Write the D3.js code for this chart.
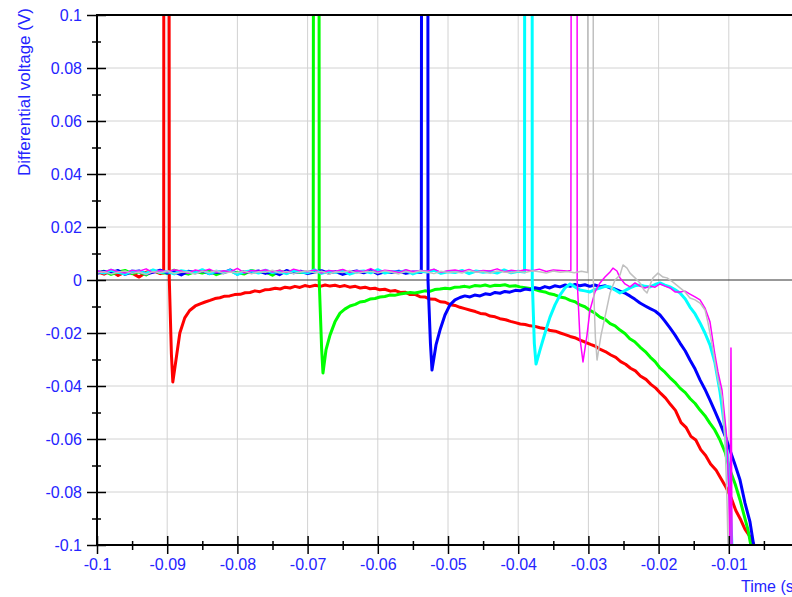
<!DOCTYPE html>
<html>
<head>
<meta charset="utf-8">
<script src="https://cdn.jsdelivr.net/npm/d3@7"></script>
<style>
  body { margin: 0; background: #fff; }
  svg { display: block; }
</style>
</head>
<body>
<svg id="chart"></svg>
<script>
// tick values (0 s sits just past the right edge of the picture)
const xMajor = [-0.1, -0.09, -0.08, -0.07, -0.06, -0.05, -0.04, -0.03, -0.02, -0.01];
const xMinor = [-0.095, -0.085, -0.075, -0.065, -0.055, -0.045, -0.035, -0.025, -0.015, -0.005];
const yMajor = [-0.1, -0.08, -0.06, -0.04, -0.02, 0, 0.02, 0.04, 0.06, 0.08, 0.1];
const yMinor = [-0.09, -0.07, -0.05, -0.03, -0.01, 0.01, 0.03, 0.05, 0.07, 0.09];

// pre-trigger baseline, sampled every 1 ms from t = -0.1 s
const baseStart = -0.1;
const baseStep = 0.001;
const redBase = [0.0031,0.0022,0.0034,0.0017,0.0030,0.0026,0.0011,0.0029,0.0035,0.0024];
const greenBase = [0.0027,0.0033,0.0021,0.0030,0.0036,0.0024,0.0031,0.0019,0.0034,0.0028,0.0025,0.0037,0.0029,0.0022,0.0032,0.0026,0.0035,0.0020,0.0030,0.0033,0.0027,0.0023,0.0036,0.0029,0.0031,0.0018,0.0034,0.0026,0.0032,0.0028,0.0030];
const blueBase = [0.0025,0.0032,0.0028,0.0036,0.0021,0.0030,0.0034,0.0023,0.0029,0.0037,0.0026,0.0031,0.0019,0.0033,0.0028,0.0035,0.0024,0.0030,0.0027,0.0038,0.0022,0.0032,0.0029,0.0034,0.0025,0.0031,0.0020,0.0036,0.0027,0.0033,0.0024,0.0030,0.0035,0.0026,0.0032,0.0021,0.0029,0.0034,0.0027,0.0037,0.0023,0.0031,0.0028,0.0033,0.0025,0.0030,0.0029];
const cyanBase = [0.0033,0.0026,0.0037,0.0029,0.0022,0.0034,0.0031,0.0025,0.0038,0.0028,0.0032,0.0023,0.0035,0.0030,0.0027,0.0039,0.0024,0.0033,0.0029,0.0036,0.0021,0.0031,0.0034,0.0026,0.0037,0.0028,0.0032,0.0024,0.0035,0.0030,0.0027,0.0038,0.0025,0.0033,0.0029,0.0036,0.0022,0.0031,0.0034,0.0027,0.0039,0.0026,0.0032,0.0029,0.0035,0.0023,0.0033,0.0030,0.0037,0.0025,0.0031,0.0028,0.0036,0.0024,0.0034,0.0029,0.0032,0.0026,0.0038,0.0027,0.0033,0.0030];
const magentaBase = [0.0035,0.0029,0.0040,0.0031,0.0026,0.0037,0.0033,0.0042,0.0028,0.0036,0.0030,0.0039,0.0034,0.0025,0.0038,0.0032,0.0041,0.0029,0.0035,0.0031,0.0044,0.0027,0.0036,0.0033,0.0039,0.0030,0.0037,0.0028,0.0041,0.0034,0.0031,0.0038,0.0026,0.0036,0.0033,0.0040,0.0029,0.0035,0.0032,0.0043,0.0030,0.0037,0.0034,0.0028,0.0039,0.0031,0.0036,0.0033,0.0041,0.0029,0.0035,0.0038,0.0032,0.0040,0.0030,0.0036,0.0034,0.0042,0.0031,0.0037,0.0033,0.0039,0.0035,0.0041,0.0032,0.0038,0.0036,0.0034];
const grayBase = [0.0026,0.0031,0.0023,0.0029,0.0034,0.0025,0.0030,0.0021,0.0032,0.0027,0.0035,0.0024,0.0029,0.0031,0.0022,0.0033,0.0028,0.0036,0.0025,0.0030,0.0027,0.0034,0.0023,0.0031,0.0029,0.0037,0.0026,0.0032,0.0024,0.0030,0.0035,0.0027,0.0033,0.0022,0.0031,0.0028,0.0036,0.0025,0.0030,0.0033,0.0026,0.0034,0.0029,0.0023,0.0032,0.0027,0.0035,0.0030,0.0024,0.0033,0.0028,0.0031,0.0026,0.0036,0.0029,0.0032,0.0025,0.0034,0.0030,0.0027,0.0033,0.0028,0.0035,0.0031,0.0026,0.0034,0.0029,0.0032,0.0027,0.0033,0.0030];

// trigger spike and what follows: [time (s), voltage (V)]
const redTrace = [[-0.0905,0.0027],[-0.09045,0.4],[-0.0898,0.4],[-0.0897,0.0],[-0.0894,-0.028],[-0.0892,-0.0385],[-0.08875,-0.0302],[-0.0882,-0.0200],[-0.0875,-0.0143],[-0.0868,-0.0115],[-0.0860,-0.0098],[-0.0853,-0.0090],[-0.0846,-0.0083],[-0.0839,-0.0077],[-0.0832,-0.0070],[-0.0825,-0.0067],[-0.0818,-0.0061],[-0.0811,-0.0060],[-0.0804,-0.0055],[-0.0796,-0.0054],[-0.0789,-0.0048],[-0.0782,-0.0047],[-0.0775,-0.0041],[-0.0768,-0.0044],[-0.0761,-0.0037],[-0.0754,-0.0036],[-0.0746,-0.0031],[-0.0739,-0.0034],[-0.0732,-0.0027],[-0.0725,-0.0030],[-0.0718,-0.0024],[-0.0711,-0.0028],[-0.0704,-0.0021],[-0.0697,-0.0025],[-0.0689,-0.0020],[-0.0682,-0.0024],[-0.0675,-0.0019],[-0.0668,-0.0023],[-0.0661,-0.0020],[-0.0654,-0.0025],[-0.0647,-0.0021],[-0.0640,-0.0027],[-0.0632,-0.0024],[-0.0625,-0.0030],[-0.0618,-0.0027],[-0.0611,-0.0033],[-0.0604,-0.0031],[-0.0597,-0.0037],[-0.0590,-0.0035],[-0.0582,-0.0042],[-0.0575,-0.0040],[-0.0568,-0.0047],[-0.0561,-0.0046],[-0.0554,-0.0055],[-0.0547,-0.0054],[-0.0540,-0.0063],[-0.0533,-0.0064],[-0.0526,-0.0072],[-0.0518,-0.0073],[-0.0511,-0.0082],[-0.0504,-0.0084],[-0.0497,-0.0093],[-0.0490,-0.0096],[-0.0483,-0.0103],[-0.0476,-0.0108],[-0.0468,-0.0114],[-0.0461,-0.0119],[-0.0454,-0.0126],[-0.0447,-0.0128],[-0.0440,-0.0136],[-0.0433,-0.0139],[-0.0426,-0.0146],[-0.0418,-0.0150],[-0.0411,-0.0156],[-0.0404,-0.0161],[-0.0397,-0.0166],[-0.0390,-0.0168],[-0.0383,-0.0173],[-0.0376,-0.0175],[-0.0369,-0.0180],[-0.0361,-0.0184],[-0.0354,-0.0191],[-0.0347,-0.0193],[-0.0340,-0.0200],[-0.0333,-0.0206],[-0.0326,-0.0213],[-0.0318,-0.0219],[-0.0311,-0.0228],[-0.0304,-0.0235],[-0.0297,-0.0243],[-0.0290,-0.0250],[-0.0283,-0.0262],[-0.0276,-0.0270],[-0.0268,-0.0283],[-0.0261,-0.0292],[-0.0254,-0.0308],[-0.0247,-0.0318],[-0.0240,-0.0333],[-0.0233,-0.0343],[-0.0226,-0.0362],[-0.0218,-0.0375],[-0.0211,-0.0394],[-0.0204,-0.0408],[-0.0197,-0.0428],[-0.0190,-0.0446],[-0.0183,-0.0470],[-0.0176,-0.0492],[-0.0168,-0.0538],[-0.0161,-0.0556],[-0.0154,-0.0590],[-0.0147,-0.0604],[-0.0140,-0.0640],[-0.0133,-0.0662],[-0.0126,-0.0694],[-0.0118,-0.0718],[-0.0111,-0.0750],[-0.0104,-0.0782],[-0.0097,-0.0820],[-0.0090,-0.0870],[-0.0083,-0.0905],[-0.0077,-0.0940],[-0.0070,-0.0968],[-0.0062,-0.1010]];
const greenTrace = [[-0.0692,0.0028],[-0.0691,0.4],[-0.0684,0.4],[-0.06835,0.0],[-0.0680,-0.026],[-0.06781,-0.0351],[-0.06738,-0.0264],[-0.06681,-0.0208],[-0.0661,-0.0158],[-0.06538,-0.0125],[-0.0647,-0.0110],[-0.06396,-0.0098],[-0.0632,-0.0092],[-0.06254,-0.0083],[-0.0618,-0.0080],[-0.06111,-0.0072],[-0.0604,-0.0070],[-0.05969,-0.0064],[-0.0590,-0.0062],[-0.0583,-0.0057],[-0.0576,-0.0058],[-0.05684,-0.0053],[-0.0561,-0.0050],[-0.0554,-0.0047],[-0.05471,-0.0049],[-0.05399,-0.0045],[-0.0533,-0.0041],[-0.0526,-0.0043],[-0.0519,-0.0036],[-0.05114,-0.0034],[-0.0504,-0.0031],[-0.0497,-0.0033],[-0.0490,-0.0027],[-0.04829,-0.0026],[-0.0476,-0.0024],[-0.0469,-0.0027],[-0.0462,-0.0021],[-0.04544,-0.0023],[-0.0447,-0.0019],[-0.0440,-0.0024],[-0.0433,-0.0020],[-0.04259,-0.0021],[-0.0419,-0.0018],[-0.0412,-0.0024],[-0.0404,-0.0022],[-0.03974,-0.0026],[-0.0390,-0.0029],[-0.0383,-0.0032],[-0.0376,-0.0036],[-0.03689,-0.0042],[-0.0362,-0.0045],[-0.0355,-0.0052],[-0.0348,-0.0056],[-0.03405,-0.0064],[-0.0333,-0.0068],[-0.0326,-0.0077],[-0.0319,-0.0082],[-0.0312,-0.0094],[-0.0305,-0.0101],[-0.0298,-0.0114],[-0.0291,-0.0124],[-0.02835,-0.0140],[-0.0276,-0.0149],[-0.0269,-0.0165],[-0.0262,-0.0173],[-0.0255,-0.0189],[-0.0248,-0.0202],[-0.0241,-0.0222],[-0.0234,-0.0233],[-0.02265,-0.0253],[-0.0219,-0.0270],[-0.0212,-0.0291],[-0.0205,-0.0308],[-0.0198,-0.0332],[-0.0191,-0.0348],[-0.0184,-0.0368],[-0.0177,-0.0385],[-0.01695,-0.0408],[-0.0162,-0.0425],[-0.0155,-0.0448],[-0.0148,-0.0466],[-0.0141,-0.0491],[-0.0134,-0.0512],[-0.0127,-0.0540],[-0.0120,-0.0566],[-0.01125,-0.0604],[-0.0105,-0.0652],[-0.00983,-0.0717],[-0.0091,-0.0770],[-0.0084,-0.0830],[-0.0078,-0.0890],[-0.00726,-0.0943],[-0.0068,-0.1010]];
const blueTrace = [[-0.0538,0.0029],[-0.0537,0.4],[-0.0529,0.4],[-0.05285,0.0],[-0.0525,-0.024],[-0.05228,-0.0340],[-0.05171,-0.0245],[-0.05114,-0.0189],[-0.05043,-0.0132],[-0.04972,-0.0094],[-0.0490,-0.0075],[-0.04829,-0.0066],[-0.0476,-0.0060],[-0.04687,-0.0064],[-0.0462,-0.0057],[-0.04544,-0.0060],[-0.0447,-0.0052],[-0.04402,-0.0055],[-0.0433,-0.0047],[-0.04259,-0.0050],[-0.0419,-0.0043],[-0.0412,-0.0046],[-0.0404,-0.0039],[-0.03974,-0.0041],[-0.0390,-0.0034],[-0.0383,-0.0037],[-0.0376,-0.0029],[-0.03689,-0.0033],[-0.0362,-0.0025],[-0.0355,-0.0030],[-0.0348,-0.0022],[-0.03405,-0.0026],[-0.0333,-0.0019],[-0.0326,-0.0024],[-0.0319,-0.0017],[-0.0312,-0.0022],[-0.0305,-0.0018],[-0.0298,-0.0024],[-0.0291,-0.0019],[-0.02835,-0.0025],[-0.0276,-0.0022],[-0.0269,-0.0030],[-0.0262,-0.0034],[-0.0255,-0.0042],[-0.0248,-0.0049],[-0.0241,-0.0060],[-0.0234,-0.0072],[-0.02265,-0.0087],[-0.0219,-0.0098],[-0.0212,-0.0108],[-0.0205,-0.0117],[-0.0198,-0.0132],[-0.0191,-0.0155],[-0.01838,-0.0181],[-0.0177,-0.0206],[-0.01695,-0.0238],[-0.0162,-0.0268],[-0.01553,-0.0302],[-0.0148,-0.0336],[-0.0141,-0.0377],[-0.0134,-0.0412],[-0.01268,-0.0453],[-0.0120,-0.0494],[-0.01125,-0.0540],[-0.0105,-0.0590],[-0.00983,-0.0642],[-0.0091,-0.0698],[-0.0084,-0.0755],[-0.00769,-0.0842],[-0.00698,-0.0913],[-0.0064,-0.1010]];
const cyanTrace = [[-0.0391,0.0030],[-0.03903,0.4],[-0.03803,0.4],[-0.0380,0.0],[-0.0377,-0.024],[-0.03746,-0.0317],[-0.03689,-0.0264],[-0.03618,-0.0200],[-0.03547,-0.0140],[-0.03476,-0.0094],[-0.03405,-0.0057],[-0.03333,-0.0030],[-0.03262,-0.0015],[-0.03191,-0.0026],[-0.0312,-0.0038],[-0.0305,-0.0041],[-0.02977,-0.0045],[-0.0291,-0.0036],[-0.02835,-0.0030],[-0.0276,-0.0024],[-0.02692,-0.0026],[-0.0262,-0.0038],[-0.0255,-0.0049],[-0.0248,-0.0040],[-0.02407,-0.0030],[-0.0234,-0.0022],[-0.02265,-0.0019],[-0.0219,-0.0024],[-0.02123,-0.0026],[-0.0205,-0.0017],[-0.0198,-0.0011],[-0.0191,-0.0019],[-0.01838,-0.0026],[-0.0177,-0.0036],[-0.01695,-0.0049],[-0.0162,-0.0072],[-0.01553,-0.0102],[-0.0148,-0.0128],[-0.0141,-0.0162],[-0.0134,-0.0200],[-0.01268,-0.0245],[-0.01197,-0.0313],[-0.01125,-0.0423],[-0.01054,-0.0566],[-0.01011,-0.0691],[-0.00983,-0.0819],[-0.00954,-0.1010]];
const magentaTrace = [[-0.0325,0.0036],[-0.03234,0.4],[-0.03162,0.4],[-0.0316,0.0],[-0.0312,-0.022],[-0.03077,-0.0309],[-0.0302,-0.0208],[-0.02977,-0.0113],[-0.02906,-0.0045],[-0.02835,-0.0011],[-0.02764,0.0011],[-0.02692,0.0030],[-0.0265,0.0045],[-0.02593,0.0034],[-0.0255,0.0008],[-0.02479,-0.0015],[-0.02407,-0.0026],[-0.02336,-0.0011],[-0.02265,-0.0023],[-0.02194,-0.0030],[-0.02123,-0.0023],[-0.02051,-0.0027],[-0.0198,-0.0015],[-0.01909,-0.0023],[-0.01838,-0.0030],[-0.01766,-0.0045],[-0.01695,-0.0045],[-0.01624,-0.0042],[-0.01553,-0.0053],[-0.01481,-0.0064],[-0.0141,-0.0075],[-0.01339,-0.0106],[-0.01268,-0.0158],[-0.01197,-0.0283],[-0.01154,-0.0347],[-0.01097,-0.0415],[-0.01054,-0.0528],[-0.01026,-0.0604],[-0.00997,-0.0830],[-0.00983,-0.1000],[-0.00969,-0.0257],[-0.00954,-0.1010]];
const grayTrace = [[-0.0301,0.0028],[-0.03006,0.4],[-0.02934,0.4],[-0.0293,0.0],[-0.0290,-0.022],[-0.02877,-0.0302],[-0.0282,-0.0208],[-0.02764,-0.0140],[-0.02692,-0.0049],[-0.02621,0.0000],[-0.0255,0.0019],[-0.02507,0.0057],[-0.0245,0.0045],[-0.02407,0.0026],[-0.02336,0.0008],[-0.02265,-0.0011],[-0.02208,-0.0038],[-0.02165,-0.0049],[-0.02123,-0.0019],[-0.0208,0.0008],[-0.02009,0.0026],[-0.01937,0.0011],[-0.0188,0.0008],[-0.01795,-0.0008],[-0.01695,-0.0030],[-0.01624,-0.0045],[-0.01553,-0.0068],[-0.01481,-0.0075],[-0.0141,-0.0087],[-0.01339,-0.0113],[-0.01296,-0.0162],[-0.01225,-0.0264],[-0.01154,-0.0377],[-0.01097,-0.0442],[-0.01054,-0.0604],[-0.01026,-0.0830],[-0.01011,-0.1010]];

const seriesColors = ["#ff0000", "#00ff00", "#0000ff", "#00ffff", "#ff00ff", "#c0c0c0"];
const seriesWidths = [3, 3, 3, 3, 1.5, 1.5];
const seriesBase = [redBase, greenBase, blueBase, cyanBase, magentaBase, grayBase];
const seriesTrace = [redTrace, greenTrace, blueTrace, cyanTrace, magentaTrace, grayTrace];

const width = 792, height = 597;
const plotLeft = 97, plotTop = 15, plotBottom = 545, plotRight = 799;
const tickColor = "#2424ff";
const fontFamily = "Arial, 'Liberation Sans', sans-serif";

const svg = d3.select("#chart").attr("width", width).attr("height", height);

const x = d3.scaleLinear().domain([-0.1, 0]).range([plotLeft, plotRight]);
const y = d3.scaleLinear().domain([-0.1, 0.1]).range([plotBottom, plotTop]);

// grid
svg.append("g")
    .selectAll("line")
    .data(xMajor.slice(1))
    .join("line")
    .attr("x1", d => x(d)).attr("x2", d => x(d))
    .attr("y1", plotTop).attr("y2", plotBottom)
    .attr("stroke", "#d2d2d2").attr("stroke-width", 1);

svg.append("g")
    .selectAll("line")
    .data(yMajor.filter(d => d !== 0 && Math.abs(d) < 0.1))
    .join("line")
    .attr("x1", plotLeft).attr("x2", width)
    .attr("y1", d => y(d)).attr("y2", d => y(d))
    .attr("stroke", "#d2d2d2").attr("stroke-width", 1);

// zero line
svg.append("line")
    .attr("x1", plotLeft).attr("x2", width)
    .attr("y1", y(0)).attr("y2", y(0))
    .attr("stroke", "#333").attr("stroke-width", 1);

// traces, clipped to the plot box
svg.append("defs").append("clipPath").attr("id", "plot-clip")
    .append("rect")
    .attr("x", plotLeft).attr("y", plotTop)
    .attr("width", plotRight - plotLeft).attr("height", plotBottom - plotTop);

const line = d3.line().x(d => x(d[0])).y(d => y(d[1]));

const traces = svg.append("g").attr("clip-path", "url(#plot-clip)");
seriesTrace.forEach((trace, i) => {
    const start = trace[0][0];
    const pts = seriesBase[i]
        .map((v, k) => [baseStart + k * baseStep, v])
        .filter(p => p[0] < start - 1e-9)
        .concat(trace);
    traces.append("path")
        .attr("d", line(pts))
        .attr("fill", "none")
        .attr("stroke", seriesColors[i])
        .attr("stroke-width", seriesWidths[i])
        .attr("stroke-linejoin", "round");
});

// top border
svg.append("line")
    .attr("x1", plotLeft).attr("x2", width)
    .attr("y1", plotTop).attr("y2", plotTop)
    .attr("stroke", "#000").attr("stroke-width", 2);

const fmt = d => String(+d.toFixed(3));

// y axis: major + minor ticks crossing the axis line
const yAx = svg.append("g").attr("transform", `translate(${plotLeft},0)`)
    .call(d3.axisLeft(y).tickValues(yMajor).tickSize(10).tickPadding(5).tickFormat(fmt));
yAx.select(".domain").remove();
yAx.selectAll(".tick line").attr("x1", 9).attr("stroke", "#000").attr("stroke-width", 1.5);
yAx.selectAll(".tick text").attr("fill", tickColor);
yAx.attr("font-family", fontFamily).attr("font-size", 16);

const yMin = svg.append("g").attr("transform", `translate(${plotLeft},0)`)
    .call(d3.axisLeft(y).tickValues(yMinor).tickSize(5).tickFormat(""));
yMin.select(".domain").remove();
yMin.selectAll(".tick line").attr("x1", 4).attr("stroke", "#000").attr("stroke-width", 1.5);

// x axis
const xAx = svg.append("g").attr("transform", `translate(0,${plotBottom})`)
    .call(d3.axisBottom(x).tickValues(xMajor).tickSize(9).tickPadding(5).tickFormat(fmt));
xAx.select(".domain").remove();
xAx.selectAll(".tick line").attr("y1", -9).attr("stroke", "#000").attr("stroke-width", 1.5);
xAx.selectAll(".tick text").attr("fill", tickColor);
xAx.attr("font-family", fontFamily).attr("font-size", 16);

const xMin = svg.append("g").attr("transform", `translate(0,${plotBottom})`)
    .call(d3.axisBottom(x).tickValues(xMinor).tickSize(5).tickFormat(""));
xMin.select(".domain").remove();
xMin.selectAll(".tick line").attr("y1", -4).attr("stroke", "#000").attr("stroke-width", 1.5);

// axis lines
svg.append("line")
    .attr("x1", plotLeft).attr("x2", plotLeft)
    .attr("y1", plotTop - 1).attr("y2", plotBottom + 1)
    .attr("stroke", "#000").attr("stroke-width", 2);
svg.append("line")
    .attr("x1", plotLeft).attr("x2", width)
    .attr("y1", plotBottom).attr("y2", plotBottom)
    .attr("stroke", "#000").attr("stroke-width", 2);

// titles
svg.append("text")
    .attr("transform", "translate(30,92) rotate(-90)")
    .attr("text-anchor", "middle")
    .attr("font-family", fontFamily).attr("font-size", 17)
    .attr("fill", tickColor)
    .text("Differential voltage (V)");

// the axis title runs off the right edge, as in the original
svg.append("text")
    .attr("x", 741).attr("y", 592)
    .attr("font-family", fontFamily).attr("font-size", 16)
    .attr("fill", tickColor)
    .text("Time (s)");
</script>
</body>
</html>
